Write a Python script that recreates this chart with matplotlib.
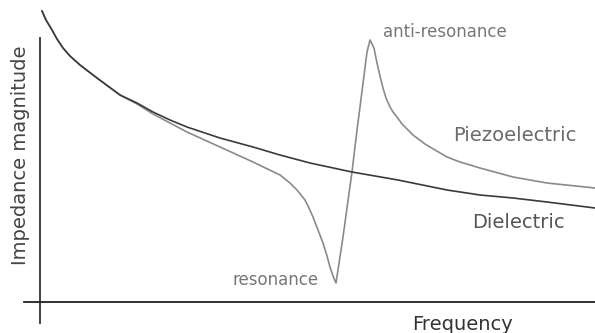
import matplotlib
matplotlib.use("Agg")
import matplotlib.pyplot as plt

# values (arbitrary units, origin at the axis crossing)
diel_freq = [2, 6, 12, 17, 23, 30, 40, 57, 80, 97, 113, 130, 147, 180, 213,
             240, 270, 312, 358, 407, 440, 473, 507, 555]
diel_imp = [291, 282, 272, 263, 254, 246, 237, 224, 207, 199, 190, 182, 175,
            164, 155, 147, 139, 130, 122, 112, 107, 104, 100, 94]

piezo_freq = [2, 6, 12, 17, 23, 30, 40, 57, 80, 97, 113, 130, 147, 180, 213,
              240, 250, 257, 261, 265, 269, 273, 278, 283, 287, 290, 293, 296,
              303, 312, 317, 320, 327, 330, 334, 337, 340, 343, 346, 350, 353,
              357, 362, 373, 385, 395, 407, 420, 440, 473, 507, 555]
piezo_imp = [291, 282, 272, 263, 254, 246, 237, 224, 207, 198, 188, 179, 170,
             155, 140, 127, 119, 112, 107, 102, 94, 85, 72, 59, 46, 35, 26, 19,
             65, 130, 172, 195, 250, 262, 254, 239, 226, 214, 204, 195, 190,
             185, 178, 167, 158, 152, 145, 140, 134, 125, 119, 114]

fig = plt.figure(figsize=(5.95, 3.33), dpi=100)
ax = fig.add_axes([0, 0, 1, 1])
ax.set_xlim(-40, 555)
ax.set_ylim(-31, 302)
ax.axis("off")

# axes drawn as plain crossing lines
ax.plot([0, 0], [-21, 264], color="#333333", lw=1.3)
ax.plot([-16, 555], [0, 0], color="#222222", lw=1.3)

ax.plot(piezo_freq, piezo_imp, color="#8a8a8a", lw=1.2)
ax.plot(diel_freq, diel_imp, color="#3a3a3a", lw=1.2)

ax.text(343, 265, "anti-resonance", fontsize=12, color="#777777",
        ha="left", va="baseline")
ax.text(279, 17, "resonance", fontsize=12, color="#777777",
        ha="right", va="baseline")
ax.text(413, 161, "Piezoelectric", fontsize=14, color="#6a6a6a",
        ha="left", va="baseline")
ax.text(432, 74, "Dielectric", fontsize=14, color="#555555",
        ha="left", va="baseline")
ax.text(372, -28, "Frequency", fontsize=14, color="#333333",
        ha="left", va="baseline")
ax.text(-20, 147, "Impedance magnitude", fontsize=14, color="#444444",
        rotation=90, ha="center", va="center")

fig.savefig("out.png", dpi=100)
